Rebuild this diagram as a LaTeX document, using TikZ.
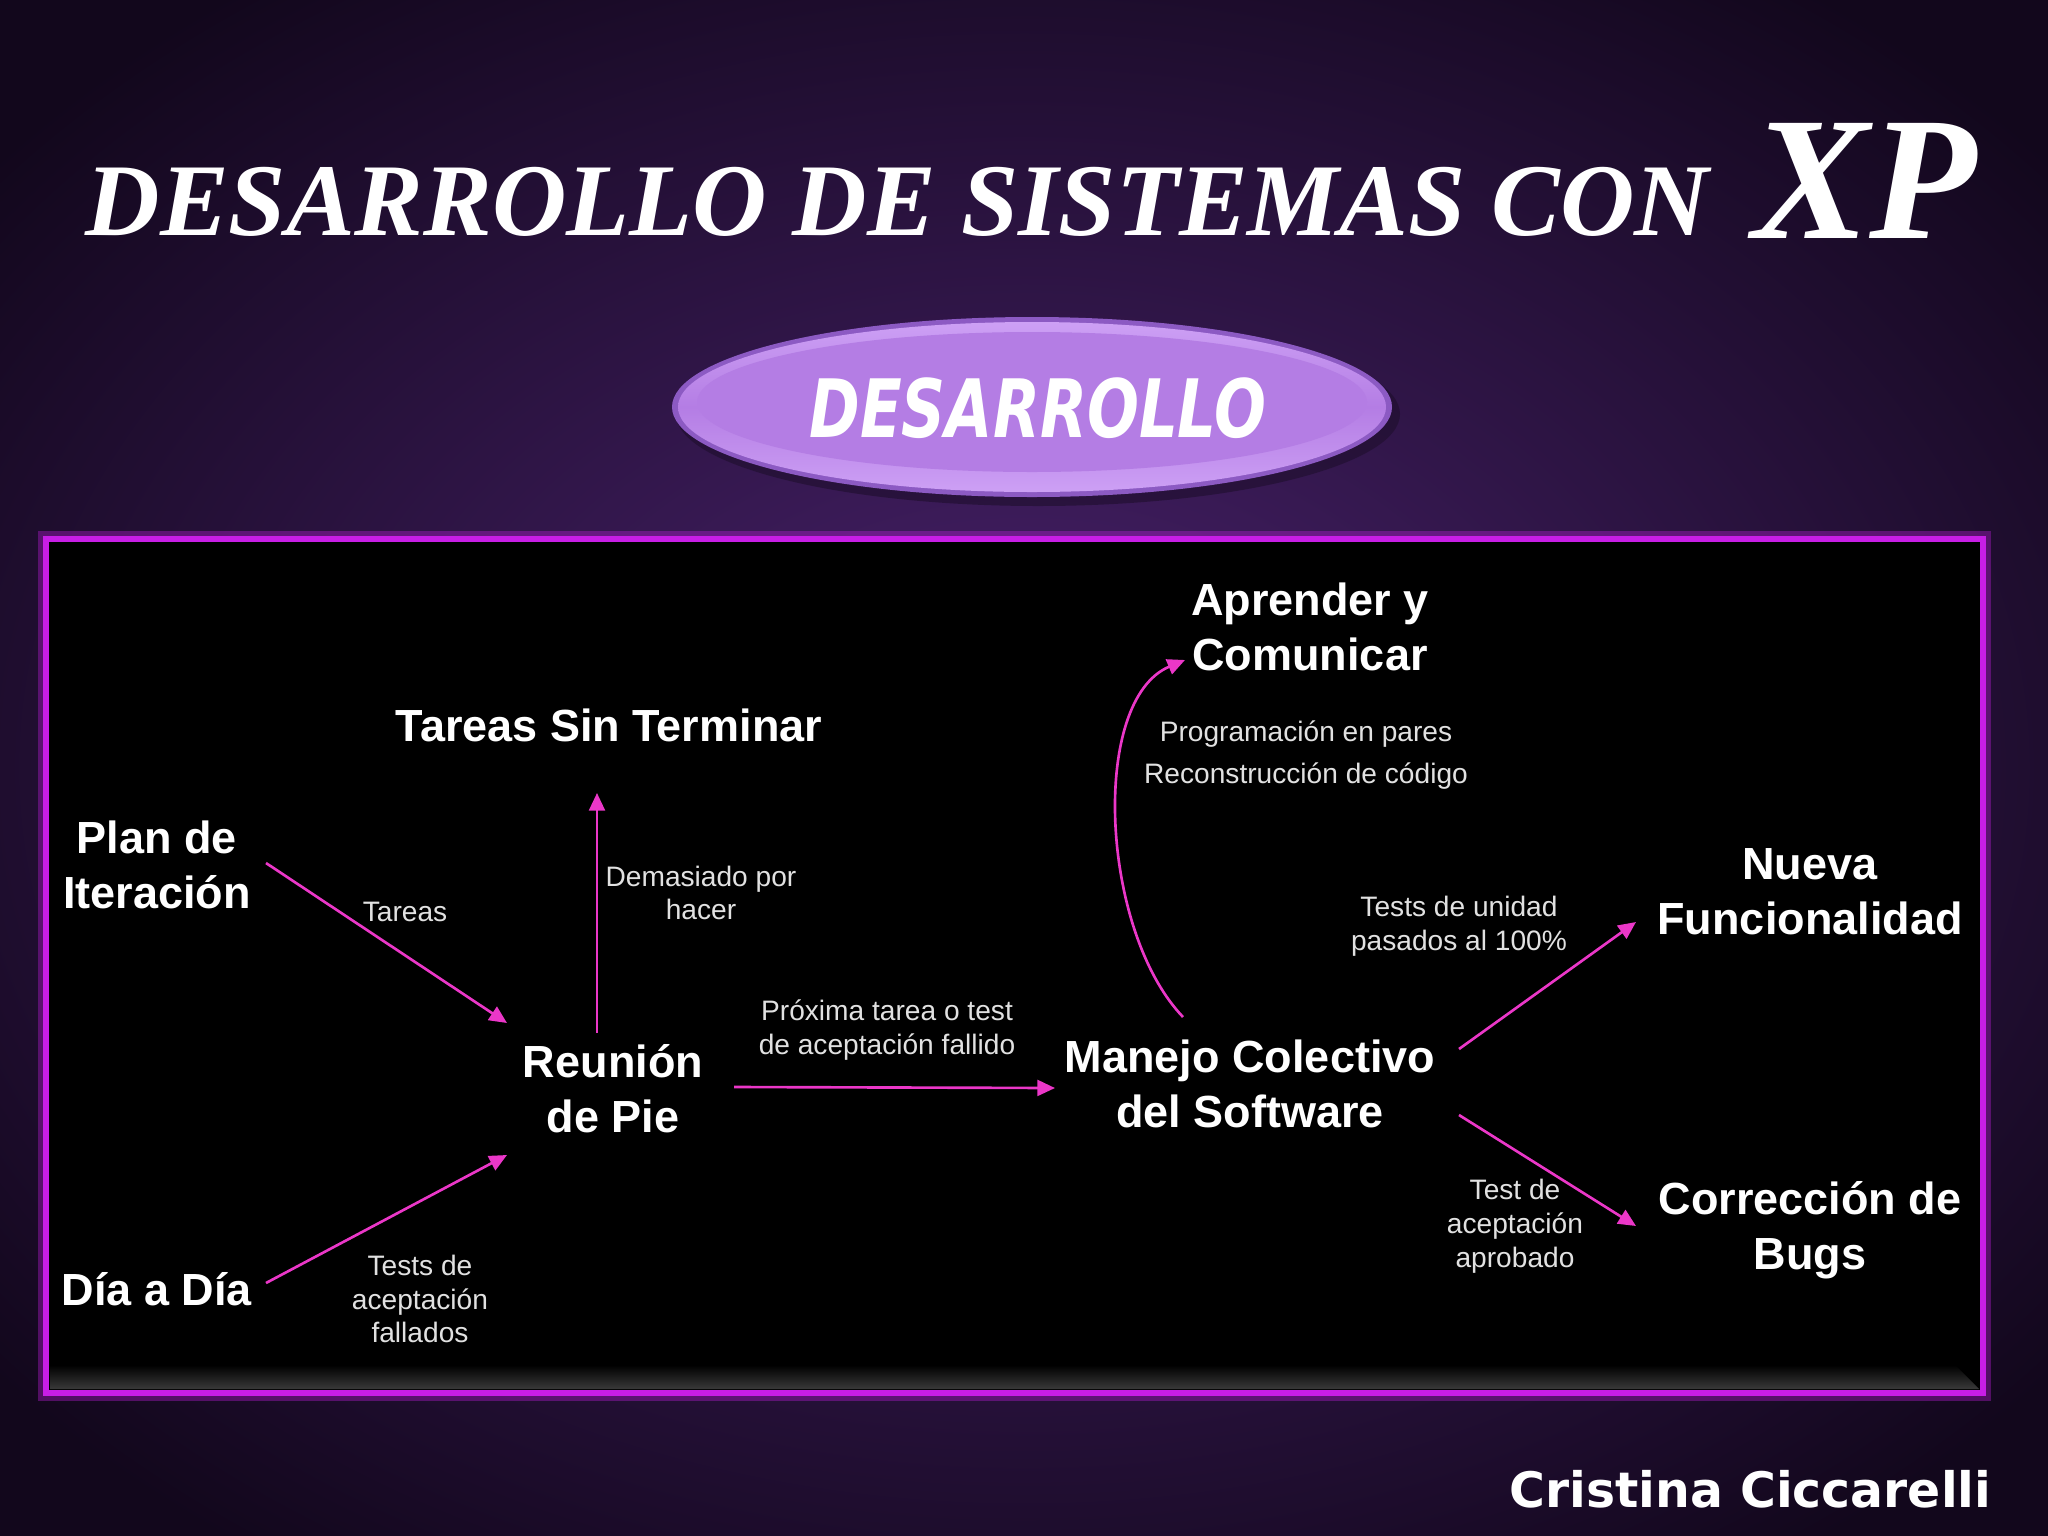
\documentclass[tikz,border=0pt]{standalone}
\usepackage{fontspec}
\setmainfont{Liberation Sans}
\newfontfamily\titlefont{Liberation Serif}
\newfontfamily\comicfont{DejaVu Sans}
\usetikzlibrary{arrows.meta,shapes.geometric}
\definecolor{bgin}{RGB}{74,34,110}
\definecolor{bgout}{RGB}{18,7,28}
\definecolor{frame}{RGB}{200,30,230}
\definecolor{arr}{RGB}{235,55,200}
\definecolor{lav}{RGB}{180,125,228}
\definecolor{lavlight}{RGB}{205,160,245}
\definecolor{lavrim}{RGB}{140,90,195}
\definecolor{lbl}{RGB}{225,225,225}
\tikzset{
  big/.style={font=\fontsize{12.8}{15.6}\selectfont\bfseries, text=white, align=center, inner sep=0pt},
  lab/.style={font=\fontsize{8}{9.6}\selectfont, text=lbl, align=center, inner sep=0pt},
  con/.style={draw=arr, line width=0.75pt, -{Triangle[length=5pt,width=4.5pt]}},
}
\begin{document}
\begin{tikzpicture}[x=0.01cm,y=-0.01cm]
\useasboundingbox (0,0) rectangle (2048,1536);
% background
\shade[inner color=bgin, outer color=bgout] (-300,-200) rectangle (2348,1736);
% title
\node (title)[anchor=base west, inner sep=0pt, text=white, font=\titlefont\bfseries\itshape\fontsize{29.3}{30}\selectfont] at (85,235) {DESARROLLO DE SISTEMAS CON};
\node (xp)[anchor=base, inner sep=0pt, text=white, font=\titlefont\bfseries\itshape\fontsize{50}{50}\selectfont] at (1865,238) {XP};
% ellipse
\fill[black!60!bgin, opacity=0.6] (1038,414) ellipse [x radius=362, y radius=92];
\fill[lavrim] (1032,407) ellipse [x radius=360, y radius=90];
\shade[top color=lavlight, bottom color=lavlight, middle color=lav] (1032,407) ellipse [x radius=354, y radius=85];
\fill[lav] (1032,402) ellipse [x radius=335, y radius=70];
\node (des)[inner sep=0pt, text=white] at (1038,408) {\resizebox{130pt}{17pt}{\comicfont\bfseries\itshape DESARROLLO}};
% box
\fill[frame, opacity=0.35] (38,531) rectangle (1991,1401);
\fill[black] (46,539) rectangle (1983,1393);
\shade[top color=black, bottom color=gray!45!black] (50,1365) -- (1955,1365) -- (1979,1389) -- (50,1389) -- cycle;
\draw[frame, line width=1.7pt] (46,539) rectangle (1983,1393);
% nodes
\node (plan) [big] at (157,865) {Plan de\\Iteración};
\node (dia)  [big] at (157,1289) {Día a Día};
\node (tar)  [big] at (609,725) {Tareas Sin Terminar};
\node (reu)  [big] at (613,1089) {Reunión\\de Pie};
\node (man)  [big] at (1250,1084) {Manejo Colectivo\\del Software};
\node (apr)  [big] at (1310,627) {Aprender y\\Comunicar};
\node (nue)  [big] at (1810,892) {Nueva\\Funcionalidad};
\node (bug)  [big] at (1810,1230) {Corrección de\\Bugs};
% connector end points
\coordinate (p1) at (266,863);  \coordinate (r1) at (507,1023);
\coordinate (d1) at (266,1283); \coordinate (r2) at (507,1155);
\coordinate (r3) at (597,1033); \coordinate (t1) at (597,793);
\coordinate (r4) at (734,1087); \coordinate (m1) at (1055,1088);
\coordinate (m2) at (1183,1017); \coordinate (a1) at (1185,660);
\coordinate (m3) at (1459,1049); \coordinate (n1) at (1636,922);
\coordinate (m4) at (1459,1115); \coordinate (b1) at (1636,1226);
\draw[con] (p1) -- (r1);
\draw[con] (d1) -- (r2);
\draw[con] (r3) -- (t1);
\draw[con] (r4) -- (m1);
\draw[con] (m2) .. controls (1100,930) and (1090,700) .. (a1);
\draw[con] (m3) -- (n1);
\draw[con] (m4) -- (b1);
% labels
\node[lab] at (405,912) {Tareas};
\node[lab] at (701,893) {Demasiado por\\hacer};
\node[lab] at (887,1030) {Próxima tarea o test\\de aceptación fallido};
\node[lab] at (420,1299) {Tests de\\aceptación\\fallados};
\node[lab] at (1306,734) {Programación en pares};
\node[lab] at (1306,776) {Reconstrucción de código};
\node[lab] at (1459,926) {Tests de unidad\\pasados al 100\%};
\node[lab] at (1515,1226) {Test de\\aceptación\\aprobado};
% footer
\node (foot)[anchor=east, inner sep=0pt, text=white] at (1992,1489) {\resizebox{137pt}{!}{\comicfont\bfseries Cristina Ciccarelli}};
\end{tikzpicture}
\end{document}
